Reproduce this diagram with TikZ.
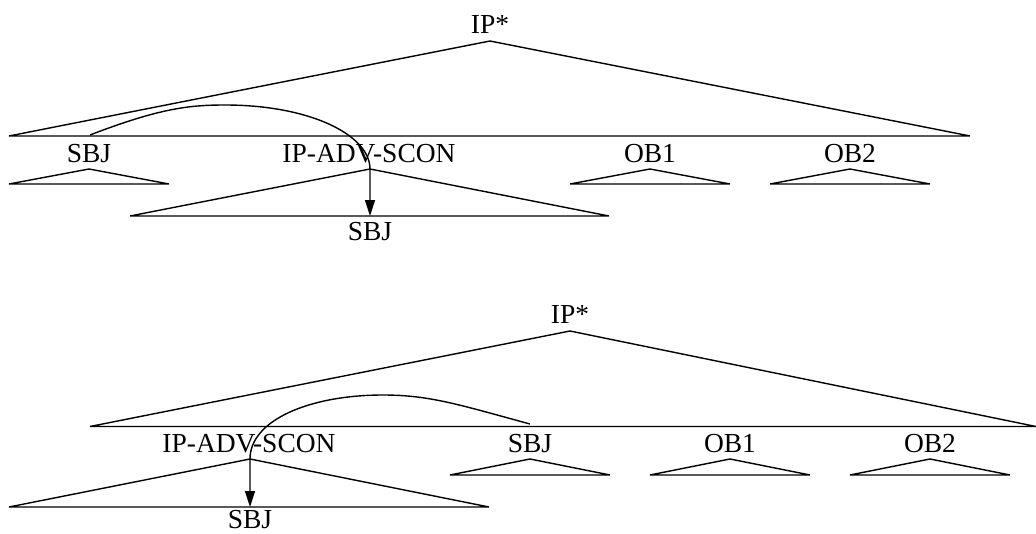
\documentclass[tikz,border=0pt]{standalone}
\usepackage{fontspec}
\setmainfont{Liberation Serif}
\usetikzlibrary{arrows.meta}
\begin{document}
\begin{tikzpicture}[x=1pt,y=-1pt, line width=1.4pt,
  lbl/.style={anchor=base, inner sep=0pt, font=\fontsize{27.5}{31}\selectfont},
  tri/.style={line join=miter},
  mv/.style={-{Triangle[length=16pt,width=10pt]}}]
\useasboundingbox (0,0) rectangle (1036,533);
% ---------- upper tree ----------
\node[lbl] (ipA) at (490,33) {IP*};
\coordinate (ipAapex) at (490,41);
\draw[tri] (ipAapex) -- (9,136) -- (970,136) -- cycle;
\node[lbl] (sbjA) at (89,162) {SBJ};
\node[lbl] (advA) at (369,162) {IP-ADV-SCON};
\node[lbl] (ob1A) at (650,162) {OB1};
\node[lbl] (ob2A) at (850,162) {OB2};
\coordinate (sbjAapex) at (89,169);
\coordinate (advAapex) at (370,169);
\coordinate (ob1Aapex) at (650,169);
\coordinate (ob2Aapex) at (850,169);
\draw[tri] (sbjAapex) -- (9,184) -- (169,184) -- cycle;
\draw[tri] (advAapex) -- (130,216) -- (609,216) -- cycle;
\draw[tri] (ob1Aapex) -- (570,184) -- (730,184) -- cycle;
\draw[tri] (ob2Aapex) -- (770,184) -- (930,184) -- cycle;
\node[lbl] (gapA) at (370,240) {SBJ};
\coordinate (arcAstart) at (90,135);
\coordinate (arcApeak) at (225,105);
\coordinate (arcAend) at (370,216);
\draw[mv] (arcAstart) .. controls (160,108) and (190,105) .. (arcApeak)
  .. controls (310,105) and (370,135) .. (advAapex) -- (arcAend);
% ---------- lower tree ----------
\node[lbl] (ipB) at (570,323) {IP*};
\coordinate (ipBapex) at (570,331);
\draw[tri] (ipBapex) -- (90,426.5) -- (1036,426.5) -- cycle;
\node[lbl] (advB) at (249,452) {IP-ADV-SCON};
\node[lbl] (sbjB) at (530,452) {SBJ};
\node[lbl] (ob1B) at (730,452) {OB1};
\node[lbl] (ob2B) at (930,452) {OB2};
\coordinate (advBapex) at (250,459);
\coordinate (sbjBapex) at (530,459);
\coordinate (ob1Bapex) at (730,459);
\coordinate (ob2Bapex) at (930,459);
\draw[tri] (advBapex) -- (9,507) -- (489,507) -- cycle;
\draw[tri] (sbjBapex) -- (450,475) -- (610,475) -- cycle;
\draw[tri] (ob1Bapex) -- (650,475) -- (810,475) -- cycle;
\draw[tri] (ob2Bapex) -- (850,475) -- (1010,475) -- cycle;
\node[lbl] (gapB) at (250,528.5) {SBJ};
\coordinate (arcBstart) at (530,424);
\coordinate (arcBpeak) at (383,395);
\coordinate (arcBend) at (250,507);
\draw[mv] (arcBstart) .. controls (460,405) and (430,395) .. (arcBpeak)
  .. controls (310,395) and (250,420) .. (advBapex) -- (arcBend);
\end{tikzpicture}
\end{document}
